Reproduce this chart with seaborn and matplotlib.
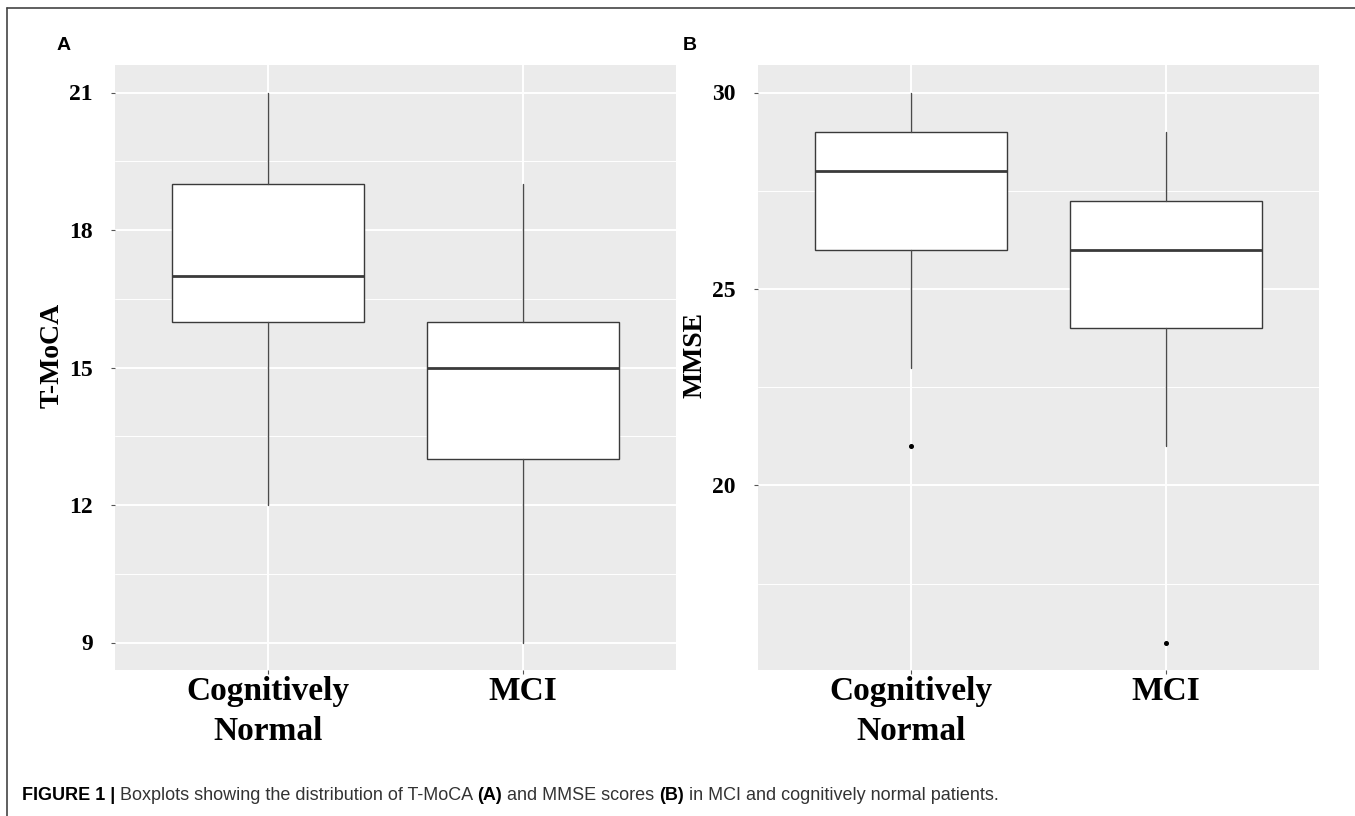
import matplotlib
matplotlib.use("Agg")
import matplotlib.pyplot as plt
import matplotlib.ticker as ticker
from matplotlib.lines import Line2D
import seaborn as sns

# categories
groups = ["Cognitively\nNormal", "MCI"]

# T-MoCA five number summaries
tmoca_low = [12, 9]
tmoca_q1 = [16, 13]
tmoca_med = [17, 15]
tmoca_q3 = [19, 16]
tmoca_high = [21, 19]
tmoca_out = [[], []]
tmoca_ticks = [9, 12, 15, 18, 21]

# MMSE five number summaries
mmse_low = [23, 21]
mmse_q1 = [26, 24]
mmse_med = [28, 26]
mmse_q3 = [29, 27.25]
mmse_high = [30, 29]
mmse_out = [[21], [16]]
mmse_ticks = [20, 25, 30]

SERIF = "Liberation Serif"
SANS = "Liberation Sans"
W, H = 1355, 816

sns.set_theme(style="darkgrid", rc={"axes.facecolor": "#EBEBEB",
                                    "grid.color": "white"})


def draw_box(ax, low, q1, med, q3, high, out, ticks, ylabel):
    stats = []
    for i in range(len(groups)):
        stats.append(dict(whislo=low[i], q1=q1[i], med=med[i], q3=q3[i],
                          whishi=high[i], fliers=out[i]))
    ax.bxp(stats, positions=[1, 2], widths=0.75, patch_artist=True,
           showcaps=False,
           boxprops=dict(facecolor="white", edgecolor="#3a3a3a", linewidth=1.0),
           medianprops=dict(color="#3a3a3a", linewidth=2.0),
           whiskerprops=dict(color="#4a4a4a", linewidth=1.0),
           flierprops=dict(marker="o", markersize=2.6, markerfacecolor="black",
                           markeredgecolor="black"))
    # ggplot style 5% expansion
    everything = low + high + [v for f in out for v in f]
    lo, hi = min(everything), max(everything)
    pad = (hi - lo) * 0.05
    ax.set_ylim(lo - pad, hi + pad)
    ax.set_xlim(0.4, 2.6)
    ax.set_yticks(ticks)
    ax.yaxis.set_minor_locator(ticker.AutoMinorLocator(2))
    ax.grid(which="major", color="white", linewidth=1.4)
    ax.grid(which="minor", axis="y", color="white", linewidth=0.7)
    ax.set_xticks([1, 2])
    ax.set_xticklabels(groups, fontfamily=SERIF, fontweight="bold",
                       fontsize=24, linespacing=1.4, color="black")
    ax.set_yticklabels([str(t) for t in ticks], fontfamily=SERIF,
                       fontweight="bold", fontsize=17, color="black")
    ax.tick_params(axis="y", which="major", length=3, width=0.8,
                   color="#555555", pad=13, left=True)
    ax.tick_params(axis="x", which="major", length=3, width=0.8,
                   color="#555555", pad=1, bottom=True)
    ax.tick_params(which="minor", length=0)
    ax.set_xlabel("")
    ax.set_ylabel(ylabel, fontfamily=SERIF, fontweight="bold", fontsize=20,
                  color="black")
    ax.yaxis.set_label_coords(-0.09, 0.52)
    for s in ax.spines.values():
        s.set_visible(False)


fig = plt.figure(figsize=(W / 100, H / 100), dpi=100)
axA = fig.add_axes([115 / W, (H - 670) / H, 561 / W, 605 / H])
axB = fig.add_axes([758 / W, (H - 670) / H, 561 / W, 605 / H])

draw_box(axA, tmoca_low, tmoca_q1, tmoca_med, tmoca_q3, tmoca_high,
         tmoca_out, tmoca_ticks, "T-MoCA")
draw_box(axB, mmse_low, mmse_q1, mmse_med, mmse_q3, mmse_high,
         mmse_out, mmse_ticks, "MMSE")

fig.text(57 / W, 1 - 45 / H, "A", fontfamily=SANS, fontweight="bold",
         fontsize=14, va="center", ha="left", color="black")
fig.text(683 / W, 1 - 45 / H, "B", fontfamily=SANS, fontweight="bold",
         fontsize=14, va="center", ha="left", color="black")

# frame around the figure (top and left only)
fig.add_artist(Line2D([7 / W, 1], [1 - 8 / H, 1 - 8 / H], color="#444444",
                      linewidth=1.2, transform=fig.transFigure))
fig.add_artist(Line2D([7 / W, 7 / W], [0, 1 - 8 / H], color="#444444",
                      linewidth=1.2, transform=fig.transFigure))

# caption, bold and normal pieces placed one after another
pieces = [("FIGURE 1 | ", "bold", "black"),
          ("Boxplots showing the distribution of T-MoCA ", "normal", "#333333"),
          ("(A)", "bold", "black"),
          (" and MMSE scores ", "normal", "#333333"),
          ("(B)", "bold", "black"),
          (" in MCI and cognitively normal patients.", "normal", "#333333")]
renderer = fig.canvas.get_renderer()
x = 22 / W
for txt, wt, col in pieces:
    t = fig.text(x, 1 - 795 / H, txt, fontfamily=SANS, fontweight=wt,
                 fontsize=13, va="center", ha="left", color=col)
    bb = t.get_window_extent(renderer)
    x = bb.x1 / W

fig.savefig("out.png", dpi=100)
